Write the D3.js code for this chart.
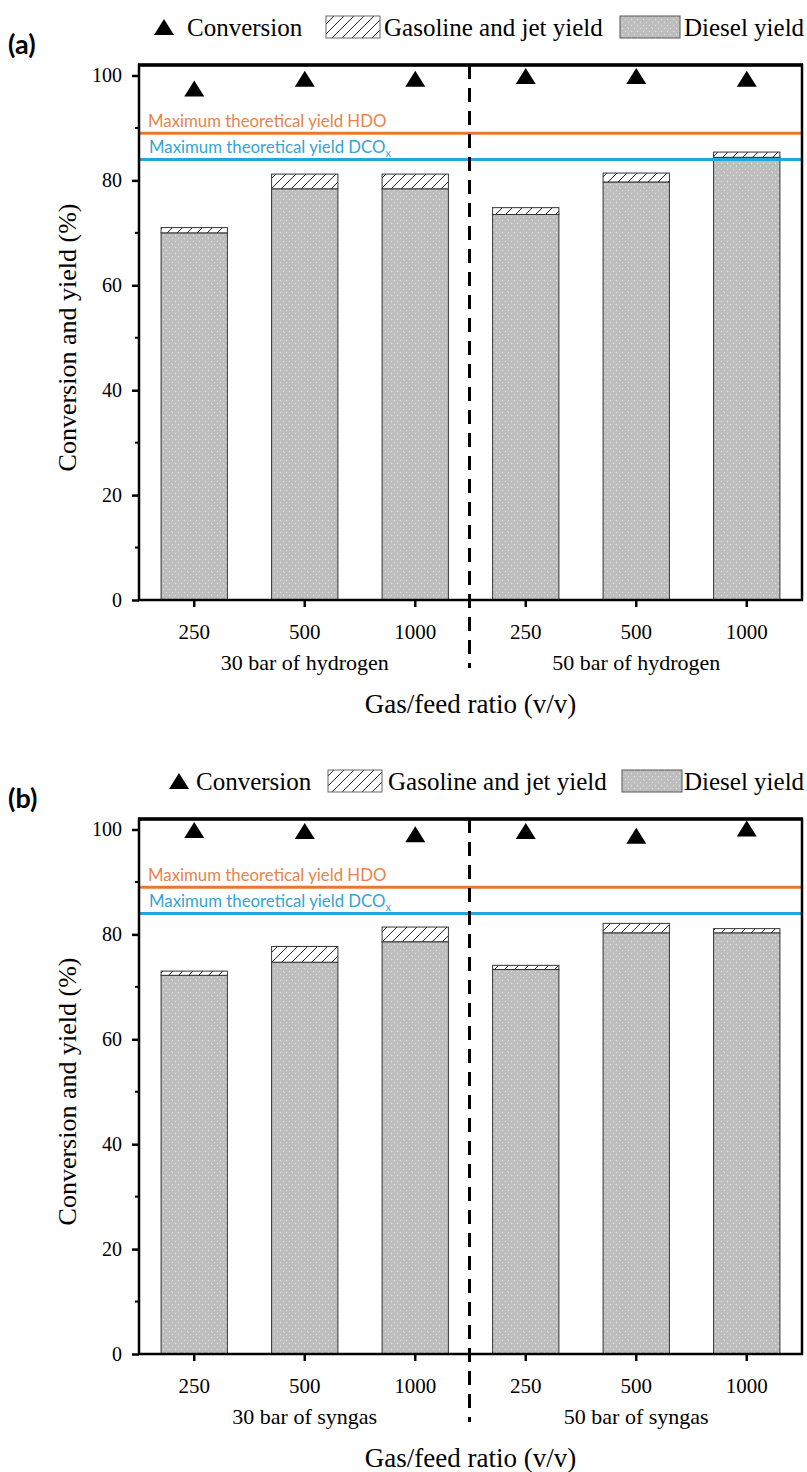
<!DOCTYPE html>
<html>
<head>
<meta charset="utf-8">
<script src="https://cdn.jsdelivr.net/npm/d3@7/dist/d3.min.js"></script>
<style>
  body { margin: 0; background: #fff; }
  svg { display: block; }
</style>
</head>
<body>
<div id="chart"></div>
<script>
// ---------- data ----------
const categories = ["250", "500", "1000", "250", "500", "1000"];
const groupsA = ["30 bar of hydrogen", "50 bar of hydrogen"];
const groupsB = ["30 bar of syngas", "50 bar of syngas"];
const dieselA = [70.0, 78.4, 78.4, 73.5, 79.7, 84.4];
const gasJetA = [1.0, 2.8, 2.8, 1.3, 1.7, 1.0];
const conversionA = [97.5, 99.4, 99.4, 99.9, 99.9, 99.4];
const dieselB = [72.2, 74.7, 78.6, 73.3, 80.3, 80.3];
const gasJetB = [0.8, 3.0, 2.8, 0.8, 1.8, 0.8];
const conversionB = [99.9, 99.7, 99.1, 99.7, 98.8, 100.2];
const maxHDO = 89;
const maxDCOx = 84;
const yTicks = [0, 20, 40, 60, 80, 100];
const yMinorTicks = [10, 30, 50, 70, 90];

const SERIF = "'Liberation Serif', 'Times New Roman', serif";
const SANS = "Lato, 'Open Sans', sans-serif";

// ---------- layout ----------
const W = 807, H = 1472;
const svg = d3.select("#chart").append("svg").attr("width", W).attr("height", H);
const defs = svg.append("defs");

// diesel dotted pattern
const pd = defs.append("pattern").attr("id", "dots").attr("patternUnits", "userSpaceOnUse")
  .attr("width", 6).attr("height", 6);
pd.append("rect").attr("width", 6).attr("height", 6).attr("fill", "#bdbdbd");
pd.append("circle").attr("cx", 1.5).attr("cy", 1.5).attr("r", 0.7).attr("fill", "#e2e2e2");
pd.append("circle").attr("cx", 4.5).attr("cy", 4.5).attr("r", 0.7).attr("fill", "#e2e2e2");

// hatch pattern
const ph = defs.append("pattern").attr("id", "hatch").attr("patternUnits", "userSpaceOnUse")
  .attr("width", 10).attr("height", 10);
ph.append("rect").attr("width", 10).attr("height", 10).attr("fill", "#fff");
ph.append("path").attr("d", "M-2.5,12.5 L12.5,-2.5 M-7.5,7.5 L7.5,-7.5 M2.5,17.5 L17.5,2.5")
  .attr("stroke", "#222").attr("stroke-width", 1);

const plotLeft = 139, plotRight = 802;
const triW = 20, triH = 16;
function triPath(cx, cy) {
  return `M${cx},${cy - triH / 2} L${cx + triW / 2},${cy + triH / 2} L${cx - triW / 2},${cy + triH / 2} Z`;
}

function serifText(sel, size) {
  return sel.attr("font-family", SERIF).style("font-family", SERIF).attr("font-size", size).attr("fill", "#000");
}

function drawPanel(offY, label, diesel, gasJet, conversion, groups, legendPos) {
  const g = svg.append("g").attr("transform", `translate(0,${offY})`);
  const top = 65, bottom = 600;
  const x = d3.scaleBand().domain(d3.range(categories.length)).range([plotLeft, plotRight]).paddingInner(0.4).paddingOuter(0.2);
  const y = d3.scaleLinear().domain([0, 102]).range([bottom, top]);

  // legend
  const lg = g.append("g");
  lg.append("path").attr("d", triPath(legendPos.tri, 27)).attr("fill", "#000");
  serifText(lg.append("text"), 25).attr("x", legendPos.conv).attr("y", 36).text("Conversion");
  lg.append("rect").attr("x", legendPos.hatchBox).attr("y", 16).attr("width", 54).attr("height", 22)
    .attr("fill", "url(#hatch)").attr("stroke", "#666").attr("stroke-width", 1);
  serifText(lg.append("text"), 25).attr("x", legendPos.gas).attr("y", 36).text("Gasoline and jet yield");
  lg.append("rect").attr("x", legendPos.dieselBox).attr("y", 16).attr("width", 60).attr("height", 22)
    .attr("fill", "url(#dots)").attr("stroke", "#555").attr("stroke-width", 1);
  serifText(lg.append("text"), 25).attr("x", 684).attr("y", 36).text("Diesel yield");

  // panel label
  g.append("text").attr("x", 8).attr("y", 54).attr("font-family", SANS)
    .attr("font-weight", "bold").attr("font-size", 27).text(label);

  // bars
  const idx = d3.range(categories.length);
  g.append("g").selectAll("rect").data(idx).join("rect")
    .attr("x", i => x(i)).attr("width", x.bandwidth())
    .attr("y", i => y(diesel[i])).attr("height", i => y(0) - y(diesel[i]))
    .attr("fill", "url(#dots)").attr("stroke", "#333").attr("stroke-width", 1);
  g.append("g").selectAll("rect").data(idx).join("rect")
    .attr("x", i => x(i)).attr("width", x.bandwidth())
    .attr("y", i => y(diesel[i] + gasJet[i])).attr("height", i => y(diesel[i]) - y(diesel[i] + gasJet[i]))
    .attr("fill", "url(#hatch)").attr("stroke", "#333").attr("stroke-width", 1);

  // reference lines
  g.append("line").attr("x1", plotLeft).attr("x2", plotRight).attr("y1", y(maxHDO)).attr("y2", y(maxHDO))
    .attr("stroke", "#E8782F").attr("stroke-width", 3);
  g.append("line").attr("x1", plotLeft).attr("x2", plotRight).attr("y1", y(maxDCOx)).attr("y2", y(maxDCOx))
    .attr("stroke", "#22A7DA").attr("stroke-width", 3);
  g.append("text").attr("x", 148).attr("y", y(maxHDO) - 6)
    .attr("font-family", SANS).attr("font-size", 16.8).attr("fill", "#E6844A")
    .text("Maximum theoretical yield HDO");
  const t2 = g.append("text").attr("x", 149).attr("y", y(maxDCOx) - 6)
    .attr("font-family", SANS).attr("font-size", 16.8).attr("fill", "#33A5D2");
  t2.append("tspan").text("Maximum theoretical yield DCO");
  t2.append("tspan").attr("font-size", 11).attr("dy", 4).text("x");

  // conversion triangles
  g.append("g").selectAll("path").data(idx).join("path")
    .attr("d", i => triPath(x(i) + x.bandwidth() / 2, y(conversion[i])))
    .attr("fill", "#000");

  // dashed separator
  const midX = (plotLeft + plotRight) / 2 - 1;
  g.append("line").attr("x1", midX).attr("x2", midX).attr("y1", top).attr("y2", 668)
    .attr("stroke", "#000").attr("stroke-width", 3).attr("stroke-dasharray", "14,9");

  // frame
  g.append("rect").attr("x", plotLeft).attr("y", top).attr("width", plotRight - plotLeft).attr("height", bottom - top)
    .attr("fill", "none").attr("stroke", "#000").attr("stroke-width", 2.5);
  g.append("line").attr("x1", plotLeft - 1).attr("x2", plotRight + 1).attr("y1", top).attr("y2", top)
    .attr("stroke", "#000").attr("stroke-width", 3.5);

  // y axis
  const ya = g.append("g").attr("transform", `translate(${plotLeft},0)`)
    .call(d3.axisLeft(y).tickValues(yTicks).tickSize(7).tickPadding(10));
  ya.attr("font-family", SERIF);
  ya.select(".domain").remove();
  ya.selectAll(".tick line").attr("stroke-width", 2.5);
  serifText(ya.selectAll(".tick text"), 20);
  g.append("g").selectAll("line").data(yMinorTicks).join("line")
    .attr("x1", plotLeft - 4).attr("x2", plotLeft).attr("y1", d => y(d)).attr("y2", d => y(d))
    .attr("stroke", "#000").attr("stroke-width", 2);

  // x axis
  const xa = g.append("g").attr("transform", `translate(0,${bottom})`)
    .call(d3.axisBottom(x).tickFormat(i => categories[i]).tickSize(7).tickPadding(17));
  xa.attr("font-family", SERIF);
  xa.select(".domain").remove();
  xa.selectAll(".tick line").attr("stroke-width", 2.5);
  serifText(xa.selectAll(".tick text"), 21);

  // group labels
  serifText(g.append("g").selectAll("text").data(groups).join("text"), 22)
    .attr("text-anchor", "middle")
    .attr("x", (d, j) => x(j * 3 + 1) + x.bandwidth() / 2).attr("y", 670).text(d => d);

  // axis titles
  serifText(g.append("text"), 27).attr("text-anchor", "middle")
    .attr("x", (plotLeft + plotRight) / 2).attr("y", 713).text("Gas/feed ratio (v/v)");
  serifText(g.append("text"), 26).attr("text-anchor", "middle")
    .attr("transform", `translate(76,${(top + bottom) / 2 + 5}) rotate(-90)`).text("Conversion and yield (%)");
}

drawPanel(0, "(a)", dieselA, gasJetA, conversionA, groupsA,
  { tri: 164, conv: 187, hatchBox: 326, gas: 384, dieselBox: 620 });
drawPanel(754, "(b)", dieselB, gasJetB, conversionB, groupsB,
  { tri: 179, conv: 196, hatchBox: 328, gas: 388, dieselBox: 622 });
</script>
</body>
</html>
